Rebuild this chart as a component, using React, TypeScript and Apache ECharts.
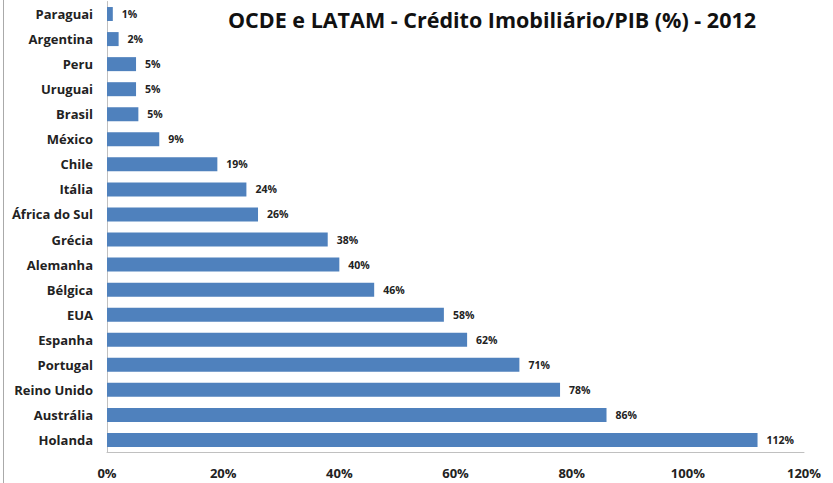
import React, { useEffect, useRef } from "react";
import * as echarts from "echarts";

const categories = [
  "Paraguai", "Argentina", "Peru", "Uruguai", "Brasil", "México", "Chile", "Itália",
  "África do Sul", "Grécia", "Alemanha", "Bélgica", "EUA", "Espanha", "Portugal",
  "Reino Unido", "Austrália", "Holanda",
];
const values = [1, 2, 5, 5, 5.4, 9, 19, 24, 26, 38, 40, 46, 58, 62, 71, 78, 86, 112];
const labels = ["1%", "2%", "5%", "5%", "5%", "9%", "19%", "24%", "26%", "38%", "40%", "46%", "58%", "62%", "71%", "78%", "86%", "112%"];
const titleText = "OCDE e LATAM - Crédito Imobiliário/PIB (%) - 2012";

const FONT = "'Open Sans', Lato, sans-serif";

export default function App() {
  const ref = useRef<HTMLDivElement>(null);
  useEffect(() => {
    if (!ref.current) return;
    const chart = echarts.init(ref.current, null, { renderer: "svg" });
    chart.setOption({
      animation: false,
      backgroundColor: "#ffffff",
      title: {
        text: titleText,
        left: 487,
        top: 3,
        textAlign: "center",
        textStyle: { fontFamily: FONT, fontSize: 21.5, fontWeight: "bold", color: "#111" },
      },
      graphic: [
        { type: "line", shape: { x1: 3.5, y1: 0, x2: 3.5, y2: 483 }, style: { stroke: "#aaaaaa", lineWidth: 1 } },
      ],
      grid: { left: 107, right: 29, top: 1.5, bottom: 30.5, containLabel: false },
      xAxis: {
        type: "value",
        min: 0,
        max: 120,
        interval: 20,
        splitLine: { show: false },
        axisLine: { show: true, lineStyle: { color: "#c0c0c0" } },
        axisTick: { show: false },
        axisLabel: {
          formatter: (v: number) => v + "%",
          fontFamily: FONT,
          fontWeight: "bold",
          fontSize: 13,
          color: "#222",
          margin: 14,
        },
      },
      yAxis: {
        type: "category",
        data: categories,
        inverse: true,
        axisLine: { show: true, lineStyle: { color: "#c0c0c0" } },
        axisTick: { show: false },
        axisLabel: {
          fontFamily: FONT,
          fontWeight: "bold",
          fontSize: 13,
          color: "#222",
          margin: 14,
        },
      },
      series: [
        {
          type: "bar",
          data: values,
          barWidth: 14,
          itemStyle: { color: "#4F81BD" },
          label: {
            show: true,
            position: "right",
            distance: 9,
            formatter: (p: any) => labels[p.dataIndex],
            fontFamily: FONT,
            fontWeight: "bold",
            fontSize: 10.5,
            color: "#222",
          },
        },
      ],
    });
    return () => chart.dispose();
  }, []);
  return (
    <div
      ref={ref}
      style={{ position: "fixed", left: 0, top: 0, width: 833, height: 483 }}
    />
  );
}
